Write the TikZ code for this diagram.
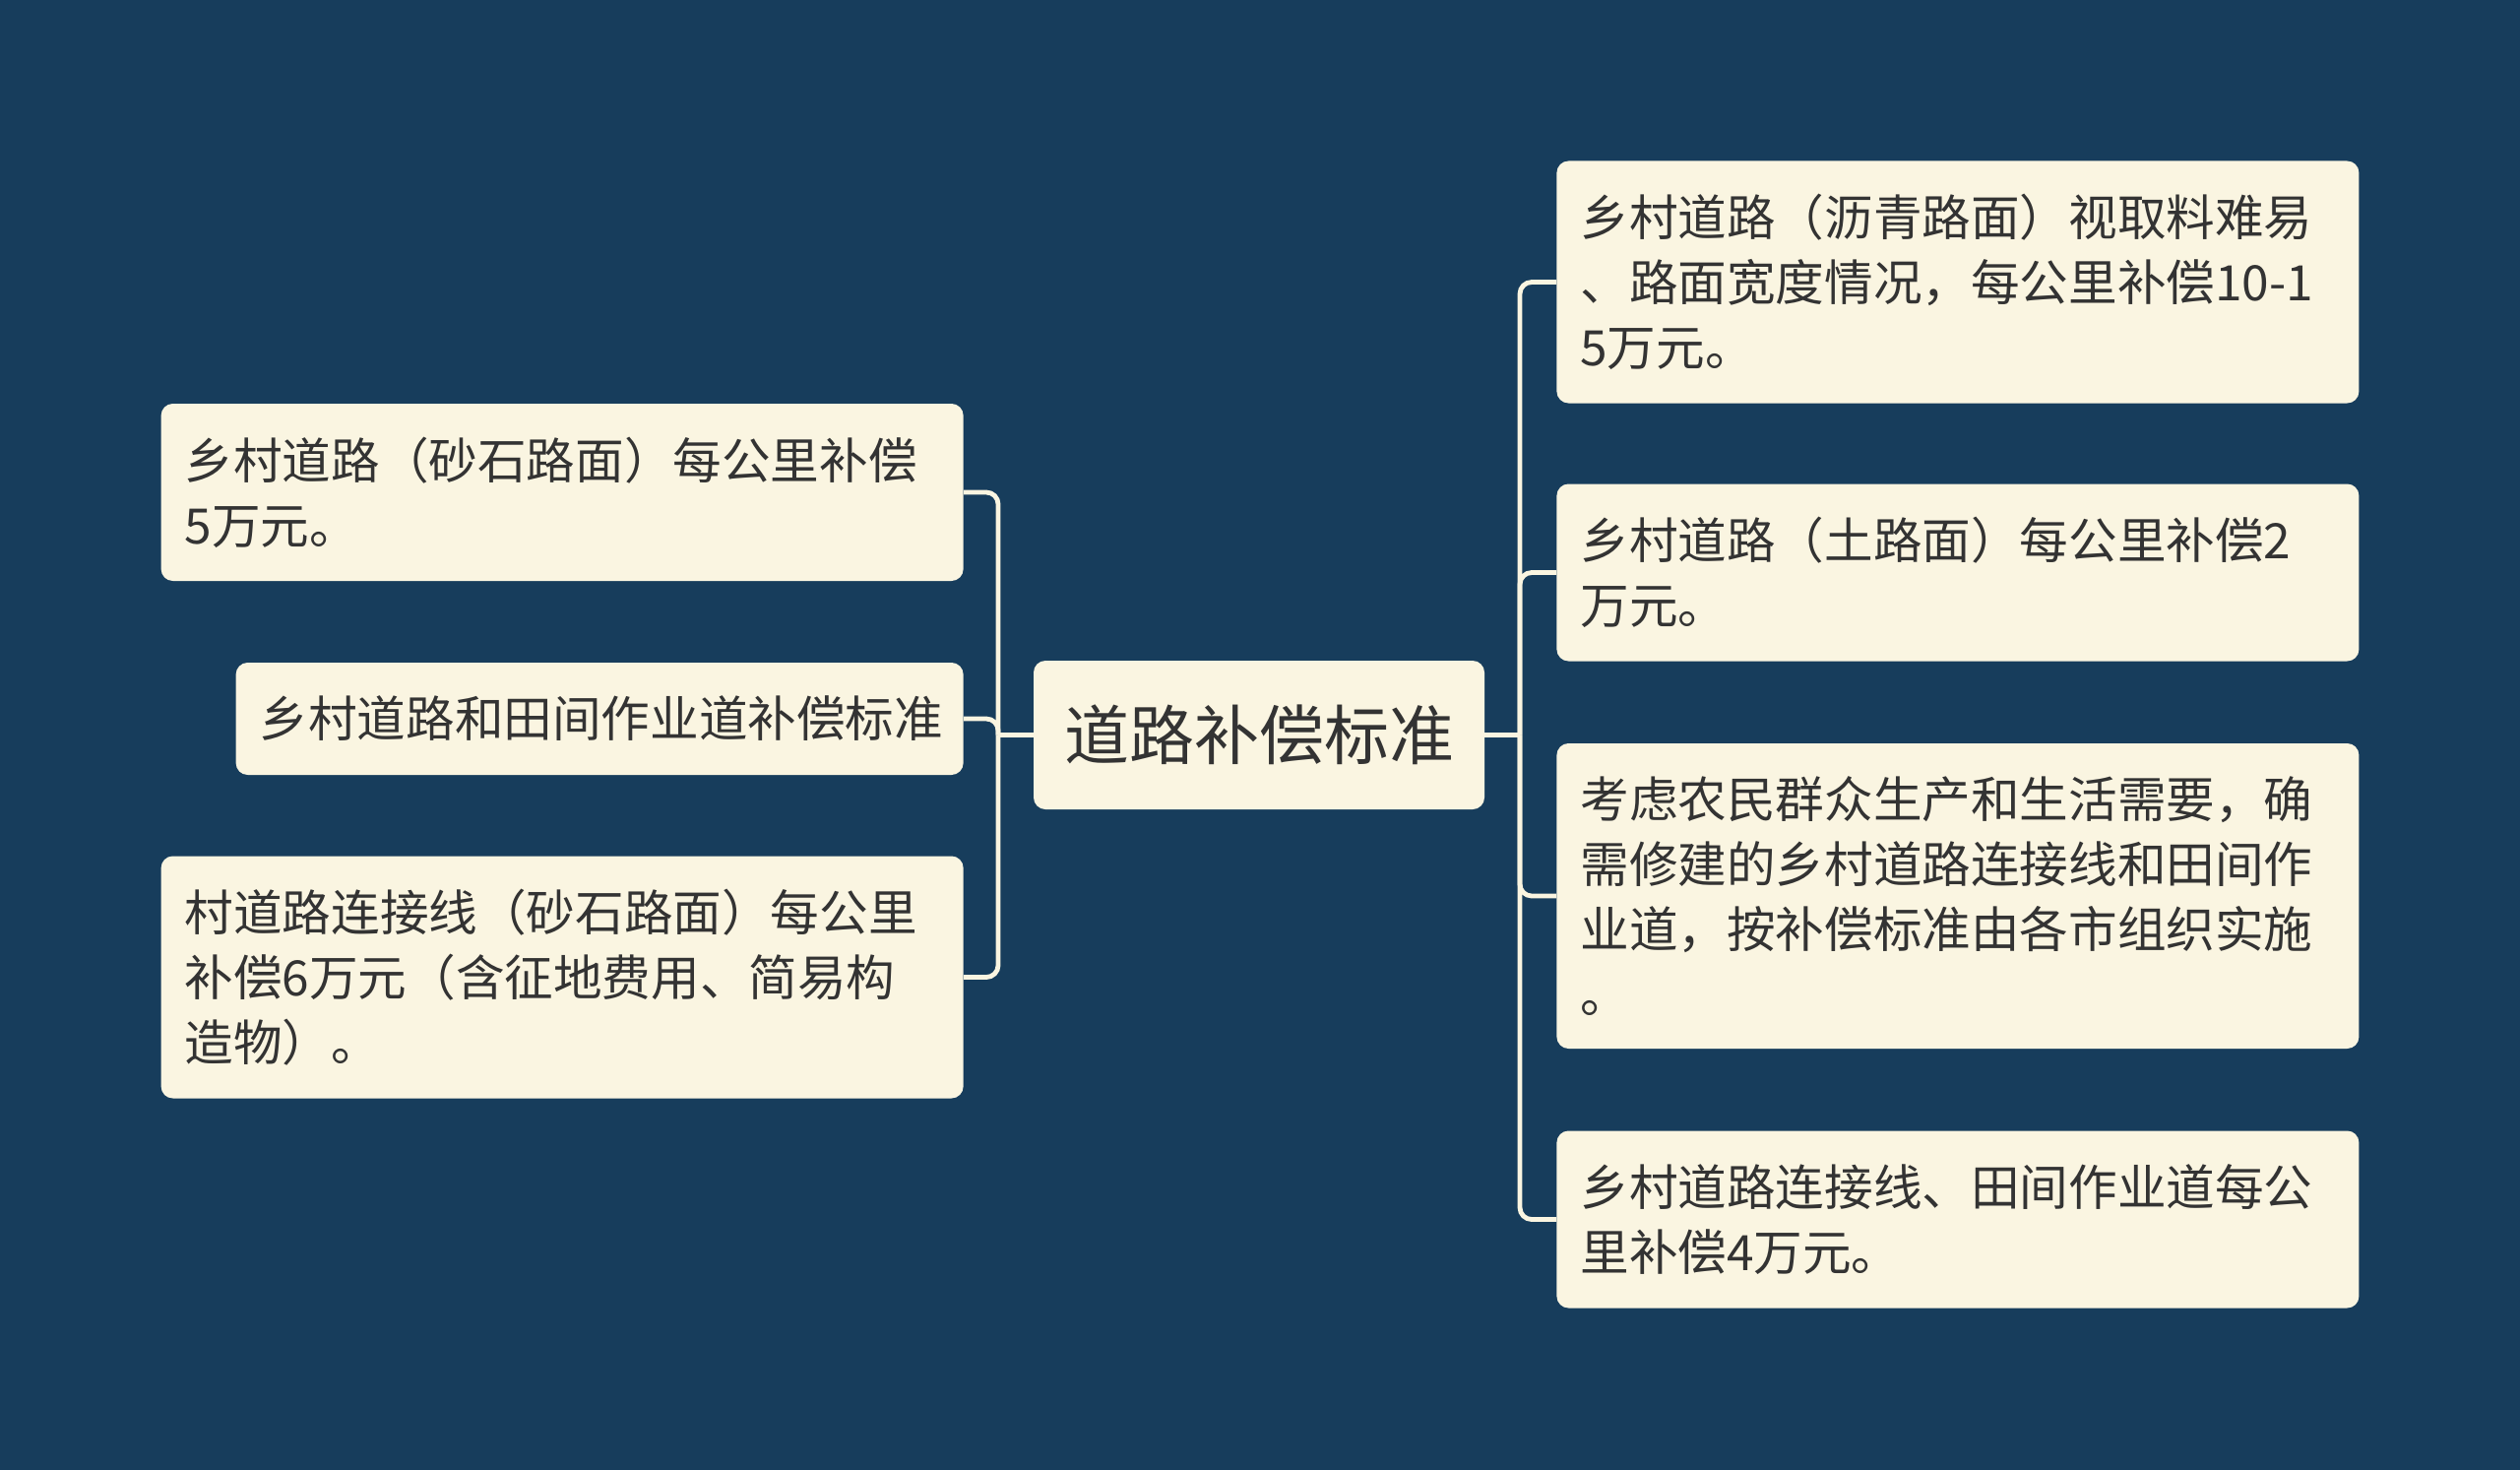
\documentclass[tikz,border=0pt]{standalone}
\usepackage{fontspec}
\newfontfamily\cjk{Noto Sans CJK SC}
\definecolor{bgblue}{HTML}{173D5C}
\definecolor{paper}{HTML}{FAF5E1}
\definecolor{ink}{HTML}{333333}

\begin{document}
\begin{tikzpicture}[x=0.5pt,y=-0.5pt,
  box/.style={fill=paper,text=ink,rounded corners=6pt,align=left,inner xsep=12pt,inner ysep=0pt,
    font=\cjk\fontsize{24.8pt}{33pt}\selectfont},
  leaf/.style={box,text width=383.5pt},
  root/.style={box,align=center,inner xsep=0pt,minimum width=229pt,minimum height=75.5pt,
    font=\cjk\fontsize{33pt}{40pt}\selectfont},
  link/.style={draw=paper,line width=2.4pt,rounded corners=6pt}]
  \fill[bgblue] (0,0) rectangle (2560,1493);
  \useasboundingbox (0,0) rectangle (2560,1493);

  \node[root] (ctr) at (1279,746.5) {道路补偿标准};

  \node[leaf,anchor=east,minimum height=90pt] (l1) at (979,500) {乡村道路（砂石路面）每公里补偿\\5万元。};
  \node[box,anchor=east,text width=345.5pt,minimum height=57pt] (l2) at (979,730) {乡村道路和田间作业道补偿标准};
  \node[leaf,anchor=east,minimum height=123pt] (l3) at (979,992.5) {村道路连接线（砂石路面）每公里\\补偿6万元（含征地费用、简易构\\造物）。};

  \node[leaf,anchor=west,minimum height=123pt] (r1) at (1581,286.5) {乡村道路（沥青路面）视取料难易\\、路面宽度情况，每公里补偿10-1\\5万元。};
  \node[leaf,anchor=west,minimum height=90pt] (r2) at (1581,581.5) {乡村道路（土路面）每公里补偿2\\万元。};
  \node[leaf,anchor=west,minimum height=155pt] (r3) at (1581,910) {考虑农民群众生产和生活需要，确\\需修建的乡村道路连接线和田间作\\业道，按补偿标准由各市组织实施\\。};
  \node[leaf,anchor=west,minimum height=90pt] (r4) at (1581,1238.5) {乡村道路连接线、田间作业道每公\\里补偿4万元。};

  \coordinate (lbus) at (1014,746.5);
  \coordinate (rbus) at (1544,746.5);
  \draw[link] (ctr.west) -- (lbus);
  \draw[link] (ctr.east) -- (rbus);
  \foreach \n in {l1,l2,l3} \draw[link] (lbus) |- (\n.east);
  \foreach \n in {r1,r2,r3,r4} \draw[link] (rbus) |- (\n.west);
\end{tikzpicture}
\end{document}
